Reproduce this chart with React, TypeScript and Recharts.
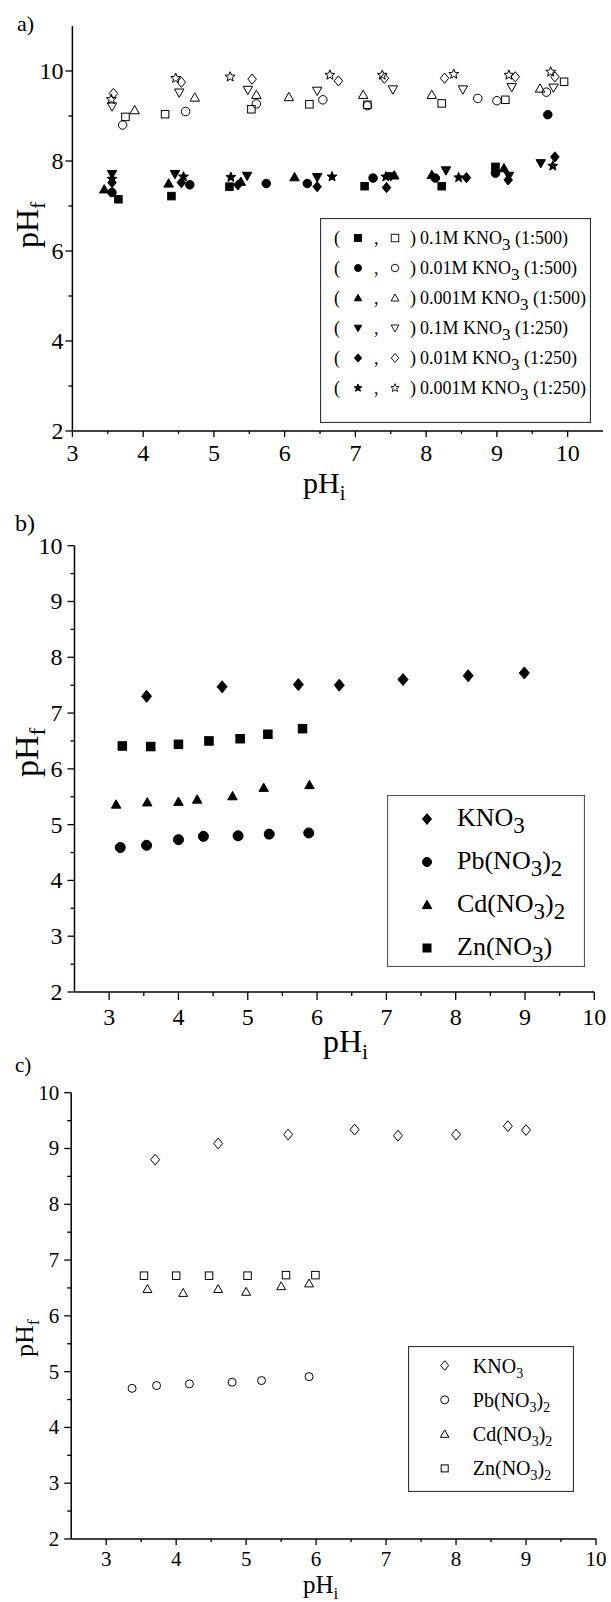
import React from 'react';
import { ScatterChart, Scatter, XAxis, YAxis, Legend } from 'recharts';

type Pt = [number, number];
type Kind = 'square' | 'circle' | 'triangle' | 'down' | 'diamond' | 'star';

// ---- panel a: six KNO3 runs, solid = one reading, hollow = the other ----
const a_sq_solid: Pt[] = [[3.65, 7.15], [4.4, 7.22], [5.22, 7.43], [7.13, 7.44], [8.22, 7.44], [8.98, 7.87]];
const a_sq_open: Pt[] = [[3.75, 8.98], [4.31, 9.04], [5.53, 9.15], [6.35, 9.26], [7.17, 9.25], [8.22, 9.28], [9.12, 9.36], [9.95, 9.76]];
const a_ci_solid: Pt[] = [[3.56, 7.3], [4.66, 7.47], [5.74, 7.5], [6.32, 7.5], [7.25, 7.62], [8.13, 7.62], [8.98, 7.73], [9.72, 9.03]];
const a_ci_open: Pt[] = [[3.71, 8.8], [4.6, 9.1], [5.6, 9.27], [6.54, 9.36], [7.17, 9.23], [8.73, 9.39], [9.0, 9.34], [9.7, 9.53]];
const a_tr_solid: Pt[] = [[3.45, 7.37], [4.36, 7.5], [5.38, 7.54], [6.14, 7.64], [7.55, 7.68], [8.08, 7.69], [9.1, 7.84]];
const a_tr_open: Pt[] = [[3.88, 9.13], [4.73, 9.41], [5.6, 9.47], [6.06, 9.42], [7.11, 9.47], [8.08, 9.47], [9.61, 9.61]];
const a_dn_solid: Pt[] = [[3.56, 7.71], [4.45, 7.71], [5.47, 7.67], [6.46, 7.64], [7.5, 7.66], [8.28, 7.79], [9.17, 7.67], [9.62, 7.95]];
const a_dn_open: Pt[] = [[3.56, 9.21], [4.51, 9.52], [5.48, 9.58], [6.46, 9.56], [7.53, 9.59], [8.52, 9.59], [9.21, 9.64], [9.8, 9.63]];
const a_di_solid: Pt[] = [[3.56, 7.52], [4.54, 7.52], [5.34, 7.47], [6.46, 7.43], [7.44, 7.41], [8.57, 7.63], [9.16, 7.58], [9.82, 8.09]];
const a_di_open: Pt[] = [[3.58, 9.5], [4.54, 9.75], [5.54, 9.82], [6.76, 9.78], [7.41, 9.84], [8.26, 9.84], [9.26, 9.87], [9.82, 9.87]];
const a_st_solid: Pt[] = [[3.56, 7.6], [4.57, 7.65], [5.24, 7.64], [6.67, 7.65], [7.43, 7.65], [8.46, 7.63], [9.79, 7.89]];
const a_st_open: Pt[] = [[3.55, 9.37], [4.46, 9.84], [5.23, 9.87], [6.64, 9.91], [7.38, 9.91], [8.39, 9.93], [9.17, 9.91], [9.76, 9.98]];

const aKinds: Kind[] = ['square', 'circle', 'triangle', 'down', 'diamond', 'star'];
const aConc = ['0.1M', '0.01M', '0.001M', '0.1M', '0.01M', '0.001M'];
const aRatio = ['1:500', '1:500', '1:500', '1:250', '1:250', '1:250'];

const aXTicks = [3, 3.5, 4, 4.5, 5, 5.5, 6, 6.5, 7, 7.5, 8, 8.5, 9, 9.5, 10];
const aXLabels = [3, 4, 5, 6, 7, 8, 9, 10];
const aYTicks = [2, 3, 4, 5, 6, 7, 8, 9, 10];
const aYLabels = [2, 4, 6, 8, 10];

// ---- panel b: salts, solid markers ----
const b_KNO3: Pt[] = [[3.54, 7.3], [4.63, 7.47], [5.73, 7.51], [6.32, 7.5], [7.24, 7.6], [8.18, 7.67], [8.99, 7.72]];
const b_Pb: Pt[] = [[3.16, 4.59], [3.54, 4.63], [4.0, 4.73], [4.36, 4.79], [4.86, 4.8], [5.31, 4.83], [5.88, 4.85]];
const b_Cd: Pt[] = [[3.1, 5.36], [3.55, 5.4], [4.0, 5.41], [4.27, 5.45], [4.78, 5.51], [5.23, 5.66], [5.89, 5.71]];
const b_Zn: Pt[] = [[3.19, 6.41], [3.6, 6.4], [4.0, 6.44], [4.44, 6.5], [4.89, 6.54], [5.29, 6.62], [5.79, 6.72]];
const bNames = ['KNO3', 'Pb(NO3)2', 'Cd(NO3)2', 'Zn(NO3)'];

// ---- panel c: salts, hollow markers ----
const c_KNO3: Pt[] = [[3.7, 8.8], [4.6, 9.09], [5.6, 9.25], [6.55, 9.34], [7.17, 9.23], [8.0, 9.25], [8.74, 9.4], [9.0, 9.33]];
const c_Pb: Pt[] = [[3.37, 4.7], [3.72, 4.75], [4.19, 4.78], [4.8, 4.81], [5.22, 4.84], [5.9, 4.91]];
const c_Cd: Pt[] = [[3.59, 6.48], [4.1, 6.41], [4.6, 6.48], [5.0, 6.43], [5.5, 6.53], [5.9, 6.58]];
const c_Zn: Pt[] = [[3.54, 6.72], [4.0, 6.72], [4.47, 6.72], [5.02, 6.72], [5.57, 6.73], [5.99, 6.73]];
const cNames = ['KNO3', 'Pb(NO3)2', 'Cd(NO3)2', 'Zn(NO3)2'];

const bcKinds: Kind[] = ['diamond', 'circle', 'triangle', 'square'];
const bcXTicks = [3, 3.5, 4, 4.5, 5, 5.5, 6, 6.5, 7, 7.5, 8, 8.5, 9, 9.5, 10];
const bcXLabels = [3, 4, 5, 6, 7, 8, 9, 10];
const bcYTicks = [2, 2.5, 3, 3.5, 4, 4.5, 5, 5.5, 6, 6.5, 7, 7.5, 8, 8.5, 9, 9.5, 10];
const bcYLabels = [2, 3, 4, 5, 6, 7, 8, 9, 10];

const FONT = '"Liberation Serif", "Times New Roman", serif';

const toXY = (pts: Pt[]) => pts.map(([x, y]) => ({ x, y }));

function Marker({ kind, x, y, s, filled, sw = 1 }: { kind: Kind; x: number; y: number; s: number; filled: boolean; sw?: number }) {
  const h = s / 2;
  const st = { fill: filled ? '#000' : 'none', stroke: '#000', strokeWidth: sw };
  if (kind === 'square') return <rect x={x - h} y={y - h} width={s} height={s} {...st} />;
  if (kind === 'circle') return <circle cx={x} cy={y} r={h} {...st} />;
  if (kind === 'triangle')
    return <polygon points={`${x},${y - h * 1.05} ${x + h * 1.05},${y + h * 0.8} ${x - h * 1.05},${y + h * 0.8}`} {...st} />;
  if (kind === 'down')
    return <polygon points={`${x},${y + h * 1.05} ${x + h * 1.05},${y - h * 0.8} ${x - h * 1.05},${y - h * 0.8}`} {...st} />;
  if (kind === 'diamond')
    return <polygon points={`${x},${y - h * 1.2} ${x + h},${y} ${x},${y + h * 1.2} ${x - h},${y}`} {...st} />;
  const pts: string[] = [];
  for (let i = 0; i < 10; i++) {
    const r = i % 2 === 0 ? h * 1.15 : h * 0.5;
    const a = -Math.PI / 2 + (i * Math.PI) / 5;
    pts.push(`${x + r * Math.cos(a)},${y + r * Math.sin(a)}`);
  }
  return <polygon points={pts.join(' ')} {...st} />;
}

// digits in a formula go down as subscripts
function Chem({ text, x, y, size, sub, dy }: { text: string; x: number; y: number; size: number; sub: number; dy: number }) {
  const runs = text.split(/(\d+)/).filter((r) => r !== '');
  let low = false;
  return (
    <text x={x} y={y} fontSize={size} fontFamily={FONT} fill="#000">
      {runs.map((r, i) => {
        const isNum = /^\d+$/.test(r);
        const shift = isNum && !low ? dy : !isNum && low ? -dy : 0;
        low = isNum;
        return (
          <tspan key={i} dy={shift} fontSize={isNum ? sub : size}>
            {r}
          </tspan>
        );
      })}
    </text>
  );
}

type Side = 'bottom' | 'left' | 'top' | 'right';
function makeTick(side: Side, labels: number[], long: number, short: number, font: number, gap: number, base: number) {
  return function Tick(p: any) {
    const v = Number(p.payload.value);
    const major = labels.includes(v);
    const len = major ? long : short;
    const { x, y } = p;
    const ln = { stroke: '#000', strokeWidth: 1.3 };
    if (side === 'bottom')
      return (
        <g>
          <line x1={x} x2={x} y1={y} y2={y + len} {...ln} />
          {major && font > 0 && (
            <text x={x} y={y + gap} textAnchor="middle" fontSize={font} fontFamily={FONT} fill="#000">{v}</text>
          )}
        </g>
      );
    if (side === 'left')
      return (
        <g>
          <line x1={x} x2={x - len} y1={y} y2={y} {...ln} />
          {major && font > 0 && (
            <text x={x - gap} y={y + base} textAnchor="end" fontSize={font} fontFamily={FONT} fill="#000">{v}</text>
          )}
        </g>
      );
    if (side === 'top') return <line x1={x} x2={x} y1={y} y2={y + len} {...ln} />;
    return <line x1={x} x2={x - len} y1={y} y2={y} {...ln} />;
  };
}

type SeriesDef = { key: string; data: Pt[]; kind: Kind; filled: boolean; s: number };

type PanelProps = {
  top: number;
  height: number;
  margin: { top: number; right: number; bottom: number; left: number };
  yWidth: number;
  xHeight: number;
  xDomain: [number, number];
  yDomain: [number, number];
  xTicks: number[];
  xLabels: number[];
  yTicks: number[];
  yLabels: number[];
  xTick: { long: number; short: number; font: number; gap: number };
  yTick: { long: number; short: number; font: number; gap: number; base: number };
  frameTicks: boolean;
  series: SeriesDef[];
  letter: { text: string; x: number; y: number; size: number };
  xTitle: { x: number; y: number; size: number };
  yTitle: { x: number; y: number; size: number };
  legend: { left: number; top: number; width: number; height: number; node: React.ReactNode };
};

function PhPanel(p: PanelProps) {
  const axisLine = { stroke: '#000', strokeWidth: 1.5 };
  const yTitle = () => (
    <g>
      <text x={p.letter.x} y={p.letter.y} fontSize={p.letter.size} fontFamily={FONT} fill="#000">{p.letter.text}</text>
      <text
        x={p.yTitle.x}
        y={p.yTitle.y}
        transform={`rotate(-90 ${p.yTitle.x} ${p.yTitle.y})`}
        fontSize={p.yTitle.size}
        fontFamily={FONT}
        fill="#000"
      >
        pH<tspan dy={p.yTitle.size * 0.22} fontSize={p.yTitle.size * 0.68}>f</tspan>
      </text>
    </g>
  );
  const xTitle = () => (
    <text x={p.xTitle.x} y={p.xTitle.y} fontSize={p.xTitle.size} fontFamily={FONT} fill="#000">
      pH<tspan dy={p.xTitle.size * 0.22} fontSize={p.xTitle.size * 0.68}>i</tspan>
    </text>
  );
  return (
    <div style={{ position: 'absolute', left: 0, top: p.top, width: 611, height: p.height }}>
      <ScatterChart width={611} height={p.height} margin={p.margin}>
        <XAxis
          dataKey="x"
          type="number"
          domain={p.xDomain}
          ticks={p.xTicks}
          interval={0}
          height={p.xHeight}
          tickSize={0}
          tickMargin={0}
          axisLine={axisLine}
          tick={makeTick('bottom', p.xLabels, p.xTick.long, p.xTick.short, p.xTick.font, p.xTick.gap, 0)}
          allowDataOverflow
          label={{ content: xTitle }}
        />
        <YAxis
          dataKey="y"
          type="number"
          domain={p.yDomain}
          ticks={p.yTicks}
          interval={0}
          width={p.yWidth}
          tickSize={0}
          tickMargin={0}
          axisLine={axisLine}
          tick={makeTick('left', p.yLabels, p.yTick.long, p.yTick.short, p.yTick.font, p.yTick.gap, p.yTick.base)}
          allowDataOverflow
          label={{ content: yTitle }}
        />
        <XAxis
          xAxisId="top"
          orientation="top"
          type="number"
          domain={p.xDomain}
          ticks={p.frameTicks ? p.xTicks : []}
          interval={0}
          height={0}
          tickSize={0}
          tickMargin={0}
          axisLine={axisLine}
          tick={p.frameTicks ? makeTick('top', p.xLabels, 6, 3, 0, 0, 0) : false}
          allowDataOverflow
        />
        <YAxis
          yAxisId="right"
          orientation="right"
          type="number"
          domain={p.yDomain}
          ticks={p.frameTicks ? p.yTicks : []}
          interval={0}
          width={0}
          tickSize={0}
          tickMargin={0}
          axisLine={axisLine}
          tick={p.frameTicks ? makeTick('right', p.yLabels, 6, 3, 0, 0, 0) : false}
          allowDataOverflow
        />
        {p.series.map((s) => (
          <Scatter
            key={s.key}
            name={s.key}
            data={toXY(s.data)}
            isAnimationActive={false}
            shape={(sp: any) => <Marker kind={s.kind} x={sp.cx} y={sp.cy} s={s.s} filled={s.filled} />}
          />
        ))}
        <Legend
          verticalAlign="middle"
          align="center"
          wrapperStyle={{ left: p.legend.left, top: p.legend.top, width: p.legend.width, height: p.legend.height }}
          content={() => <>{p.legend.node}</>}
        />
      </ScatterChart>
    </div>
  );
}

function LegendA() {
  return (
    <svg width={271} height={205} style={{ display: 'block' }}>
      <rect x={0.5} y={0.5} width={270} height={204} fill="#fff" stroke="#333" strokeWidth={1.2} />
      {aKinds.map((k, i) => {
        const cy = 20 + i * 30;
        const t = { fontSize: 18, fontFamily: FONT, fill: '#000' };
        return (
          <g key={k}>
            <text x={14} y={cy + 6} {...t}>(</text>
            <Marker kind={k} x={38} y={cy} s={7} filled />
            <text x={54} y={cy + 6} {...t}>,</text>
            <Marker kind={k} x={75} y={cy} s={7.5} filled={false} sw={0.9} />
            <text x={90} y={cy + 6} {...t}>)</text>
            <text x={100} y={cy + 6} {...t}>
              {aConc[i]} KNO<tspan dy={6} fontSize={17}>3</tspan>
              <tspan dy={-6}> ({aRatio[i]})</tspan>
            </text>
          </g>
        );
      })}
    </svg>
  );
}

function LegendB() {
  return (
    <svg width={198} height={172} style={{ display: 'block' }}>
      <rect x={0.5} y={0.5} width={197} height={171} fill="#fff" stroke="#555" strokeWidth={1.2} />
      {bcKinds.map((k, i) => {
        const cy = 24 + i * 43;
        return (
          <g key={k}>
            <Marker kind={k} x={40} y={cy} s={k === 'square' ? 8 : 9} filled />
            <Chem text={bNames[i]} x={70} y={cy + 7} size={26} sub={23} dy={7} />
          </g>
        );
      })}
    </svg>
  );
}

function LegendC() {
  return (
    <svg width={166} height={146} style={{ display: 'block' }}>
      <rect x={0.5} y={0.5} width={165} height={145} fill="#fff" stroke="#333" strokeWidth={1.2} />
      {bcKinds.map((k, i) => {
        const cy = 19.5 + i * 34.3;
        return (
          <g key={k}>
            <Marker kind={k} x={36.7} y={cy} s={k === 'square' ? 7 : 8} filled={false} />
            <Chem text={cNames[i]} x={64.8} y={cy + 7} size={20} sub={14} dy={5} />
          </g>
        );
      })}
    </svg>
  );
}

export default function App() {
  const aSeries: SeriesDef[] = [
    { key: 'sq-s', data: a_sq_solid, kind: 'square', filled: true, s: 7.5 },
    { key: 'sq-o', data: a_sq_open, kind: 'square', filled: false, s: 7.5 },
    { key: 'ci-s', data: a_ci_solid, kind: 'circle', filled: true, s: 8.5 },
    { key: 'ci-o', data: a_ci_open, kind: 'circle', filled: false, s: 8.5 },
    { key: 'tr-s', data: a_tr_solid, kind: 'triangle', filled: true, s: 9 },
    { key: 'tr-o', data: a_tr_open, kind: 'triangle', filled: false, s: 9 },
    { key: 'dn-s', data: a_dn_solid, kind: 'down', filled: true, s: 9 },
    { key: 'dn-o', data: a_dn_open, kind: 'down', filled: false, s: 9 },
    { key: 'di-s', data: a_di_solid, kind: 'diamond', filled: true, s: 8.5 },
    { key: 'di-o', data: a_di_open, kind: 'diamond', filled: false, s: 8.5 },
    { key: 'st-s', data: a_st_solid, kind: 'star', filled: true, s: 9 },
    { key: 'st-o', data: a_st_open, kind: 'star', filled: false, s: 9 },
  ];
  const bSeries: SeriesDef[] = [
    { key: 'KNO3', data: b_KNO3, kind: 'diamond', filled: true, s: 10 },
    { key: 'Pb', data: b_Pb, kind: 'circle', filled: true, s: 10 },
    { key: 'Cd', data: b_Cd, kind: 'triangle', filled: true, s: 9 },
    { key: 'Zn', data: b_Zn, kind: 'square', filled: true, s: 8.5 },
  ];
  const cSeries: SeriesDef[] = [
    { key: 'KNO3', data: c_KNO3, kind: 'diamond', filled: false, s: 9 },
    { key: 'Pb', data: c_Pb, kind: 'circle', filled: false, s: 8 },
    { key: 'Cd', data: c_Cd, kind: 'triangle', filled: false, s: 8.5 },
    { key: 'Zn', data: c_Zn, kind: 'square', filled: false, s: 7.5 },
  ];

  return (
    <div style={{ position: 'absolute', left: 0, top: 0, width: 611, height: 1602, background: '#fff', fontFamily: FONT }}>
      <PhPanel
        top={0}
        height={510}
        margin={{ top: 26, right: 8, bottom: 0, left: 0 }}
        yWidth={72.4}
        xHeight={79}
        xDomain={[3, 10.5]}
        yDomain={[2, 11]}
        xTicks={aXTicks}
        xLabels={aXLabels}
        yTicks={aYTicks}
        yLabels={aYLabels}
        xTick={{ long: 6, short: 3, font: 24, gap: 30 }}
        yTick={{ long: 7, short: 4, font: 24, gap: 9, base: 8 }}
        frameTicks={false}
        series={aSeries}
        letter={{ text: 'a)', x: 17, y: 31, size: 22 }}
        xTitle={{ x: 303, y: 493, size: 30 }}
        yTitle={{ x: 38, y: 248, size: 32 }}
        legend={{ left: 320, top: 218, width: 271, height: 205, node: <LegendA /> }}
      />
      <PhPanel
        top={500}
        height={570}
        margin={{ top: 45.7, right: 16.7, bottom: 0, left: 0 }}
        yWidth={74.5}
        xHeight={78}
        xDomain={[2.5, 10]}
        yDomain={[2, 10]}
        xTicks={bcXTicks}
        xLabels={bcXLabels}
        yTicks={bcYTicks}
        yLabels={bcYLabels}
        xTick={{ long: 8, short: 4, font: 24, gap: 33 }}
        yTick={{ long: 7, short: 4, font: 24, gap: 12, base: 8 }}
        frameTicks
        series={bSeries}
        letter={{ text: 'b)', x: 15, y: 31, size: 24 }}
        xTitle={{ x: 323, y: 552, size: 32 }}
        yTitle={{ x: 38, y: 277, size: 34 }}
        legend={{ left: 387, top: 294.7, width: 198, height: 172, node: <LegendB /> }}
      />
      <PhPanel
        top={1050}
        height={552}
        margin={{ top: 42.7, right: 15, bottom: 0, left: 0 }}
        yWidth={71.2}
        xHeight={63}
        xDomain={[2.5, 10]}
        yDomain={[2, 10]}
        xTicks={bcXTicks}
        xLabels={bcXLabels}
        yTicks={bcYTicks}
        yLabels={bcYLabels}
        xTick={{ long: 6, short: 3, font: 21, gap: 27 }}
        yTick={{ long: 7, short: 4, font: 21, gap: 12, base: 7 }}
        frameTicks
        series={cSeries}
        letter={{ text: 'c)', x: 15, y: 22, size: 21 }}
        xTitle={{ x: 303, y: 543, size: 25 }}
        yTitle={{ x: 33, y: 307, size: 26 }}
        legend={{ left: 408, top: 295.7, width: 166, height: 146, node: <LegendC /> }}
      />
    </div>
  );
}
